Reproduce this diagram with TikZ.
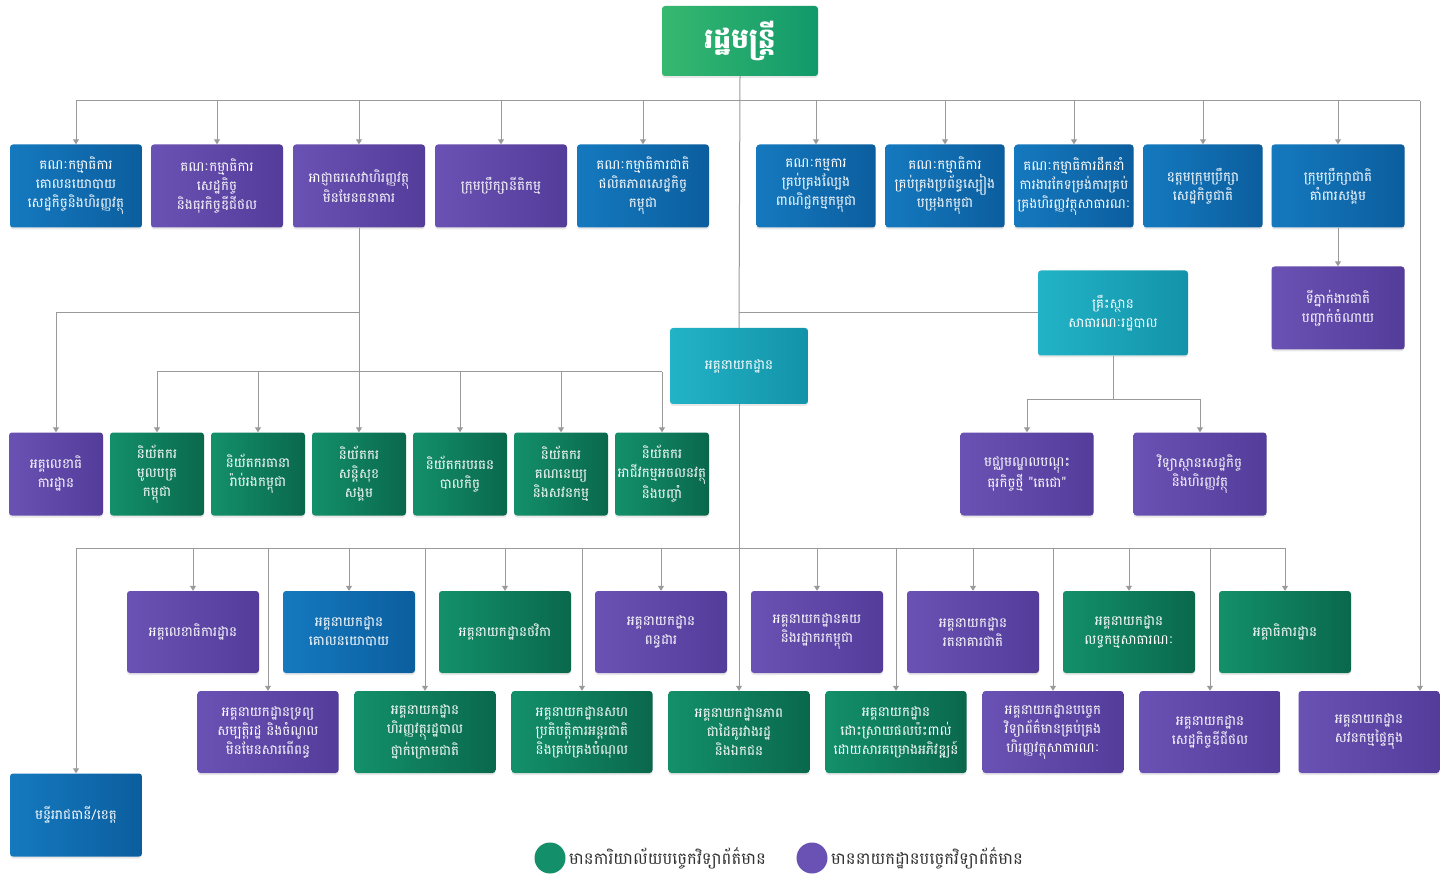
\documentclass[tikz,border=0pt]{standalone}
\usepackage{fontspec}
\usepackage{xcolor}
\usetikzlibrary{arrows.meta,shadows}
\newfontfamily\khmerfont[Script=Khmer]{Battambang}
\definecolor{blueL}{HTML}{1579BF}
\definecolor{blueD}{HTML}{0B5E9E}
\definecolor{purpleL}{HTML}{6A52B4}
\definecolor{purpleD}{HTML}{533C9A}
\definecolor{greenL}{HTML}{13906A}
\definecolor{greenD}{HTML}{0A684C}
\definecolor{tealL}{HTML}{22B3C7}
\definecolor{tealD}{HTML}{1393A9}
\definecolor{topL}{HTML}{36B86F}
\definecolor{topD}{HTML}{11996B}
\definecolor{linegray}{HTML}{9A9A9A}
\tikzset{box/.style={rounded corners=3pt, minimum height=83pt, align=center, text=white,
        font=\khmerfont\fontsize{13.5}{19}\selectfont, inner sep=1pt,
        drop shadow={opacity=0.18, shadow xshift=0pt, shadow yshift=-2pt}},
    bluebox/.style={box, left color=blueL, right color=blueD},
    purplebox/.style={box, left color=purpleL, right color=purpleD},
    greenbox/.style={box, left color=greenL, right color=greenD},
    tealbox/.style={box, left color=tealL, right color=tealD},
    link/.style={draw=linegray, line width=1pt},
    arr/.style={link, -{Triangle[width=6pt,length=5pt]}}}

\begin{document}
\begin{tikzpicture}[x=1pt,y=-1pt]
    \useasboundingbox[fill=white] (0,0) rectangle (1451,874);
    % minister
    \node[box, left color=topL, right color=topD, minimum width=156pt, minimum height=70pt,
        font=\khmerfont\fontsize{28}{30}\selectfont\bfseries] (minister) at (740,41) {រដ្ឋមន្ត្រី};
    % first row
    \node[bluebox, minimum width=132pt] (c1) at (76,186) {គណៈកម្មាធិការ\\គោលនយោបាយ\\សេដ្ឋកិច្ចនិងហិរញ្ញវត្ថុ};
    \node[purplebox, minimum width=132pt] (c2) at (217,186) {គណៈកម្មាធិការ\\សេដ្ឋកិច្ច\\និងធុរកិច្ចឌីជីថល};
    \node[purplebox, minimum width=132pt] (c3) at (359,186) {អាជ្ញាធរសេវាហិរញ្ញវត្ថុ\\មិនមែនធនាគារ};
    \node[purplebox, minimum width=132pt] (c4) at (501,186) {ក្រុមប្រឹក្សានីតិកម្ម};
    \node[bluebox, minimum width=132pt] (c5) at (643,186) {គណៈកម្មាធិការជាតិ\\ផលិតភាពសេដ្ឋកិច្ច\\កម្ពុជា};
    \node[bluebox, minimum width=119pt] (c6) at (816,186) {គណៈកម្មការ\\គ្រប់គ្រងល្បែង\\ពាណិជ្ជកម្មកម្ពុជា};
    \node[bluebox, minimum width=119pt] (c7) at (945,186) {គណៈកម្មាធិការ\\គ្រប់គ្រងប្រព័ន្ធស្បៀង\\បម្រុងកម្ពុជា};
    \node[bluebox, minimum width=119pt] (c8) at (1074,186) {គណៈកម្មាធិការដឹកនាំ\\ការងារកែទម្រង់ការគ្រប់\\គ្រងហិរញ្ញវត្ថុសាធារណៈ};
    \node[bluebox, minimum width=119pt] (c9) at (1203,186) {ឧត្តមក្រុមប្រឹក្សា\\សេដ្ឋកិច្ចជាតិ};
    \node[bluebox, minimum width=133pt] (c10) at (1338,186) {ក្រុមប្រឹក្សាជាតិ\\គាំពារសង្គម};
    \node[purplebox, minimum width=133pt] (nap) at (1338,308) {ទីភ្នាក់ងារជាតិ\\បញ្ជាក់ចំណាយ};
    % middle
    \node[tealbox, minimum width=138pt, minimum height=76pt] (gd) at (739,366) {អគ្គនាយកដ្ឋាន};
    \node[tealbox, minimum width=150pt, minimum height=85pt] (inst) at (1113,313) {គ្រឹះស្ថាន\\សាធារណៈរដ្ឋបាល};
    % regulators
    \node[purplebox, minimum width=94pt] (r1) at (56,474) {អគ្គលេខាធិ\\ការដ្ឋាន};
    \node[greenbox, minimum width=94pt] (r2) at (157,474) {និយ័តករ\\មូលបត្រ\\កម្ពុជា};
    \node[greenbox, minimum width=94pt] (r3) at (258,474) {និយ័តករធានា\\រ៉ាប់រងកម្ពុជា};
    \node[greenbox, minimum width=94pt] (r4) at (359,474) {និយ័តករ\\សន្តិសុខ\\សង្គម};
    \node[greenbox, minimum width=94pt] (r5) at (460,474) {និយ័តករបរធន\\បាលកិច្ច};
    \node[greenbox, minimum width=94pt] (r6) at (561,474) {និយ័តករ\\គណនេយ្យ\\និងសវនកម្ម};
    \node[greenbox, minimum width=94pt] (r7) at (662,474) {និយ័តករ\\អាជីវកម្មអចលនវត្ថុ\\និងបញ្ចាំ};
    \node[purplebox, minimum width=133pt] (ctr) at (1027,474) {មជ្ឈមណ្ឌលបណ្ដុះ\\ធុរកិច្ចថ្មី "តេជោ"};
    \node[purplebox, minimum width=133pt] (eif) at (1200,474) {វិទ្យាស្ថានសេដ្ឋកិច្ច\\និងហិរញ្ញវត្ថុ};
    % departments
    \node[purplebox, minimum width=132pt, minimum height=82pt] (d1) at (193,632) {អគ្គលេខាធិការដ្ឋាន};
    \node[bluebox, minimum width=132pt, minimum height=82pt] (d2) at (349,632) {អគ្គនាយកដ្ឋាន\\គោលនយោបាយ};
    \node[greenbox, minimum width=132pt, minimum height=82pt] (d3) at (505,632) {អគ្គនាយកដ្ឋានថវិកា};
    \node[purplebox, minimum width=132pt, minimum height=82pt] (d4) at (661,632) {អគ្គនាយកដ្ឋាន\\ពន្ធដារ};
    \node[purplebox, minimum width=132pt, minimum height=82pt] (d5) at (817,632) {អគ្គនាយកដ្ឋានគយ\\និងរដ្ឋាករកម្ពុជា};
    \node[purplebox, minimum width=132pt, minimum height=82pt] (d6) at (973,632) {អគ្គនាយកដ្ឋាន\\រតនាគារជាតិ};
    \node[greenbox, minimum width=132pt, minimum height=82pt] (d7) at (1129,632) {អគ្គនាយកដ្ឋាន\\លទ្ធកម្មសាធារណៈ};
    \node[greenbox, minimum width=132pt, minimum height=82pt] (d8) at (1285,632) {អគ្គាធិការដ្ឋាន};
    \node[purplebox, minimum width=141pt, minimum height=82pt] (e1) at (268,732) {អគ្គនាយកដ្ឋានទ្រព្យ\\សម្បត្តិរដ្ឋ និងចំណូល\\មិនមែនសារពើពន្ធ};
    \node[greenbox, minimum width=141pt, minimum height=82pt] (e2) at (425,732) {អគ្គនាយកដ្ឋាន\\ហិរញ្ញវត្ថុរដ្ឋបាល\\ថ្នាក់ក្រោមជាតិ};
    \node[greenbox, minimum width=141pt, minimum height=82pt] (e3) at (582,732) {អគ្គនាយកដ្ឋានសហ\\ប្រតិបត្តិការអន្តរជាតិ\\និងគ្រប់គ្រងបំណុល};
    \node[greenbox, minimum width=141pt, minimum height=82pt] (e4) at (739,732) {អគ្គនាយកដ្ឋានភាព\\ជាដៃគូរវាងរដ្ឋ\\និងឯកជន};
    \node[greenbox, minimum width=141pt, minimum height=82pt] (e5) at (896,732) {អគ្គនាយកដ្ឋាន\\ដោះស្រាយផលប៉ះពាល់\\ដោយសារគម្រោងអភិវឌ្ឍន៍};
    \node[purplebox, minimum width=141pt, minimum height=82pt] (e6) at (1053,732) {អគ្គនាយកដ្ឋានបច្ចេក\\វិទ្យាព័ត៌មានគ្រប់គ្រង\\ហិរញ្ញវត្ថុសាធារណៈ};
    \node[purplebox, minimum width=141pt, minimum height=82pt] (e7) at (1210,732) {អគ្គនាយកដ្ឋាន\\សេដ្ឋកិច្ចឌីជីថល};
    \node[purplebox, minimum width=141pt, minimum height=82pt] (e8) at (1369,732) {អគ្គនាយកដ្ឋាន\\សវនកម្មផ្ទៃក្នុង};
    \node[bluebox, minimum width=132pt] (prov) at (76,815) {មន្ទីររាជធានី/ខេត្ត};
    % legend
    \node[circle, fill=greenL, minimum size=31pt, inner sep=0pt] (lgreen) at (550,858) {};
    \node[anchor=west, font=\khmerfont\fontsize{16.5}{18}\selectfont, text=black!80] (lgreentext) at (lgreen.east) {មានការិយាល័យបច្ចេកវិទ្យាព័ត៌មាន};
    \node[circle, fill=purpleL, minimum size=31pt, inner sep=0pt] (lpurple) at (812,858) {};
    \node[anchor=west, font=\khmerfont\fontsize{16.5}{18}\selectfont, text=black!80] (lpurpletext) at (lpurple.east) {មាននាយកដ្ឋានបច្ចេកវិទ្យាព័ត៌មាន};

    % connectors
    \coordinate (tb) at (740,101);
    \coordinate (tbR) at (1420,101);
    \coordinate (m1) at (359,313);
    \coordinate (m2) at (359,372);
    \coordinate (ib) at (739,313);
    \coordinate (ib2) at (1113,400);
    \coordinate (bb) at (739,548);
    \draw[link] (minister.south) -- (gd.north);
    \draw[arr] (gd.south) -- (e4.north);
    \draw[link] (tb -| c1) -- (tbR);
    \foreach \n in {c1,c2,c3,c4,c5,c6,c7,c8,c9,c10}
        \draw[arr] (tb -| \n) -- (\n.north);
    \draw[arr] (tbR) -- (e8.north -| tbR);
    \draw[arr] (c10.south) -- (nap.north);
    \draw[arr] (c3.south) -- (r4.north);
    \draw[arr] (m1) -| (r1.north);
    \draw[link] (m2 -| r2) -- (m2 -| r7);
    \foreach \n in {r2,r3,r5,r6,r7}
        \draw[arr] (m2 -| \n) -- (\n.north);
    \draw[link] (ib) -- (inst.west);
    \draw[link] (inst.south) -- (ib2);
    \draw[arr] (ib2) -| (ctr.north);
    \draw[arr] (ib2) -| (eif.north);
    \draw[link] (bb -| prov) -- (bb -| d8);
    \foreach \n in {d1,d2,d3,d4,d5,d6,d7,d8,e1,e2,e3,e5,e6,e7,prov}
        \draw[arr] (bb -| \n) -- (\n.north);
\end{tikzpicture}
\end{document}
